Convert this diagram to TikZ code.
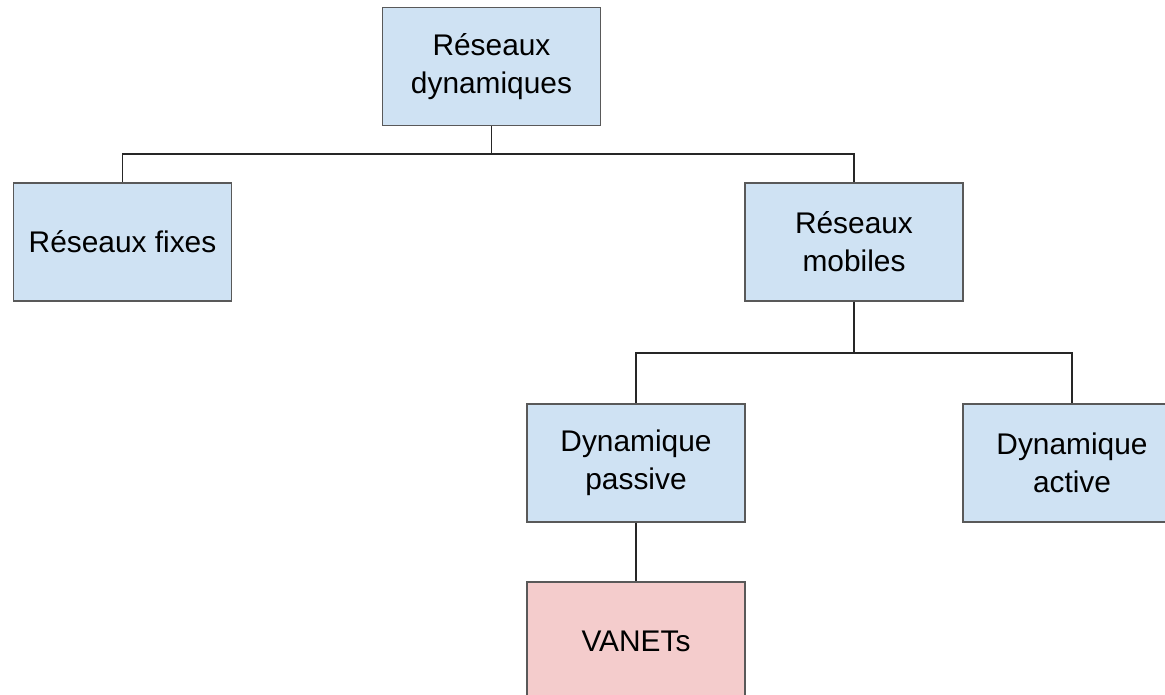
\documentclass[tikz,border=0pt]{standalone}
\usepackage{fontspec}
\setmainfont{Liberation Sans}
\definecolor{boxblue}{HTML}{CFE2F3}
\definecolor{boxpink}{HTML}{F4CCCC}
\definecolor{boxline}{HTML}{595959}
\begin{document}
\begin{tikzpicture}
  [x=0.02cm, y=-0.02cm,
   font=\fontsize{17}{21.6}\selectfont,
   inner sep=0pt,
   net/.style={rectangle,draw=boxline,fill=boxblue,line width=0.8pt,
               minimum width=4.36cm,minimum height=2.36cm,align=center},
   vanet/.style={net,fill=boxpink},
   link/.style={draw=black!85,line width=1.1pt}]
  \useasboundingbox (0,0) rectangle (1165,695);
  \clip (0,0) rectangle (1165,695);
  \node at (491.5,66.5) (dyn) [net] {Réseaux\\dynamiques};
  \node at (122.5,242) (fix) [net] {Réseaux fixes};
  \node at (854,242) (mob) [net] {Réseaux\\mobiles};
  \node at (636,463) (pas) [net] {Dynamique\\passive};
  \node at (1072,463) (act) [net] {Dynamique\\active};
  \node at (636,641) (van) [vanet] {VANETs};
  \draw [link] (dyn.south) |- ++(0,28) -| (fix.north);
  \draw [link] (dyn.south) |- ++(0,28) -| (mob.north);
  \draw [link] (mob.south) |- ++(0,51) -| (pas.north);
  \draw [link] (mob.south) |- ++(0,51) -| (act.north);
  \draw [link] (pas) to (van);
\end{tikzpicture}
\end{document}
